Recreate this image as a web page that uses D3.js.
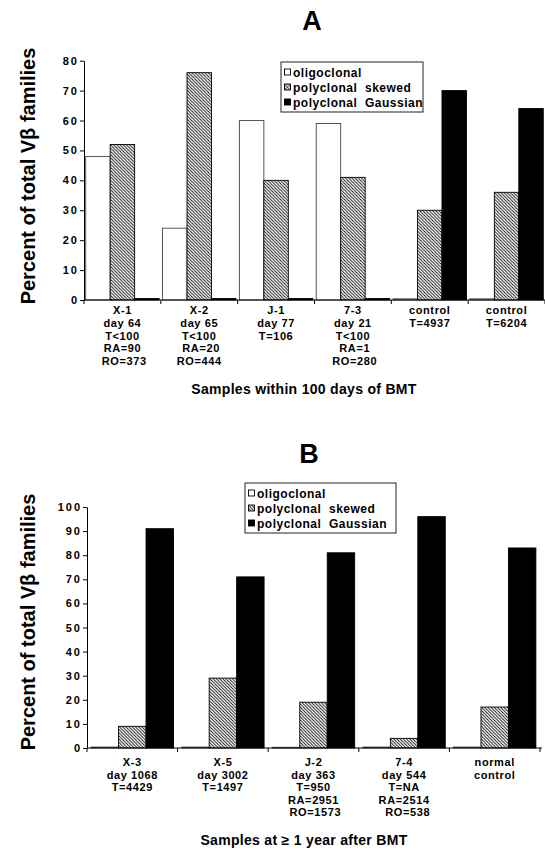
<!DOCTYPE html>
<html>
<head>
<meta charset="utf-8">
<script src="https://cdn.jsdelivr.net/npm/d3@7/dist/d3.min.js"></script>
<style>
    body { margin: 0; background: #fff; }
    svg text { font-family: "Liberation Sans", Arial, Helvetica, sans-serif; fill: #000; }
</style>
</head>
<body>
<div id="chart"></div>
<script>
const WIDTH = 545;
const HEIGHT = 848;

// series (same for both panels)
const seriesKeys = ["oligo", "skewed", "gauss"];
const seriesNames = ["oligoclonal", "polyclonal  skewed", "polyclonal  Gaussian"];

// Panel A - samples within 100 days of BMT
const catsA = ["X-1", "X-2", "J-1", "7-3", "control1", "control2"];
const labelsA = [
    ["X-1", "day 64", "T<100", "RA=90", "\u00a0RO=373"],
    ["X-2", "day 65", "T<100", "\u00a0RA=20", "RO=444"],
    ["J-1", "day 77", "T=106"],
    ["7-3", "day 21", "T<100", "\u00a0RA=1", "\u00a0RO=280"],
    ["control", "T=4937"],
    ["control", "T=6204"]
];
const oligoA = [48, 24, 60, 59, 0.4, 0.4];
const skewedA = [52, 76, 40, 41, 30, 36];
const gaussA = [0.5, 0.5, 0.5, 0.5, 70, 64];
const yTicksA = [0, 10, 20, 30, 40, 50, 60, 70, 80];

// Panel B - samples at >= 1 year after BMT
const catsB = ["X-3", "X-5", "J-2", "7-4", "normal"];
const labelsB = [
    ["X-3", "day 1068", "T=4429"],
    ["X-5", "day 3002", "T=1497"],
    ["J-2", "day 363", "T=950", "RA=2951", "\u00a0RO=1573"],
    ["7-4", "day 544", "T=NA", "RA=2514", "\u00a0\u00a0RO=538"],
    ["normal", "control"]
];
const oligoB = [0.4, 0.4, 0.3, 0.4, 0.4];
const skewedB = [9, 29, 19, 4, 17];
const gaussB = [91, 71, 81, 96, 83];
const yTicksB = [0, 10, 20, 30, 40, 50, 60, 70, 80, 90, 100];

const svg = d3.select("#chart")
    .append("svg")
    .attr("width", WIDTH)
    .attr("height", HEIGHT);

// diagonal hatch for "polyclonal skewed"
svg.append("defs")
    .append("pattern")
    .attr("id", "hatch")
    .attr("patternUnits", "userSpaceOnUse")
    .attr("width", 3.2)
    .attr("height", 3.2)
    .call(p => {
        p.append("rect").attr("width", 3.2).attr("height", 3.2).attr("fill", "#fff");
        p.append("path")
            .attr("d", "M-1,-1 L4.2,4.2 M-1,2.2 L1,4.2 M2.2,-1 L4.2,1")
            .attr("stroke", "#000")
            .attr("stroke-width", 0.85);
    });

const fills = { oligo: "#fff", skewed: "url(#hatch)", gauss: "#000" };

function drawPanel(opt) {
    const g = svg.append("g");

    const rows = opt.cats.map((c, i) => ({
        cat: c,
        oligo: opt.oligo[i],
        skewed: opt.skewed[i],
        gauss: opt.gauss[i]
    }));

    const x0 = d3.scaleBand()
        .domain(opt.cats)
        .range(opt.xRange)
        .paddingInner(0);

    const x1 = d3.scaleBand()
        .domain(seriesKeys)
        .range([0, x0.bandwidth()])
        .paddingInner(0)
        .paddingOuter(opt.outerPad);

    const y = d3.scaleLinear()
        .domain([0, opt.yMax])
        .range(opt.yRange);

    // bars
    g.selectAll(".grp")
        .data(rows)
        .enter()
        .append("g")
        .attr("transform", d => `translate(${x0(d.cat)},0)`)
        .selectAll("rect")
        .data(d => seriesKeys.map(k => ({ key: k, value: d[k] })))
        .enter()
        .append("rect")
        .attr("x", d => x1(d.key))
        .attr("y", d => y(d.value))
        .attr("width", x1.bandwidth())
        .attr("height", d => y(0) - y(d.value))
        .attr("fill", d => fills[d.key])
        .attr("stroke", d => d.key === "oligo" ? "#444" : "#000")
        .attr("stroke-width", 0.9);

    // y axis
    const yAxis = g.append("g")
        .attr("transform", `translate(${opt.xRange[0]},0)`)
        .call(d3.axisLeft(y).tickValues(opt.yTicks).tickSize(4).tickSizeOuter(0).tickPadding(3));
    yAxis.selectAll("path, line").attr("stroke", "#000");
    yAxis.selectAll("text")
        .attr("font-size", 11)
        .attr("font-weight", "bold")
        .attr("letter-spacing", 2)
        .attr("dx", 2)
        .style("font-family", "'Liberation Sans', Arial, sans-serif");

    // x axis line + ticks at group boundaries
    g.append("line")
        .attr("x1", opt.xRange[0]).attr("x2", opt.xRange[1] + 2)
        .attr("y1", y(0)).attr("y2", y(0))
        .attr("stroke", "#000");

    g.selectAll(".xtick")
        .data(d3.range(opt.cats.length + 1))
        .enter()
        .append("line")
        .attr("x1", i => opt.xRange[0] + i * x0.step())
        .attr("x2", i => opt.xRange[0] + i * x0.step())
        .attr("y1", y(0))
        .attr("y2", y(0) + 4)
        .attr("stroke", "#000");

    // category labels
    const lab = g.selectAll(".xlab")
        .data(opt.labels)
        .enter()
        .append("text")
        .attr("text-anchor", "middle")
        .attr("font-size", 11)
        .attr("font-weight", "bold")
        .attr("letter-spacing", 0.6)
        .style("white-space", "pre")
        .attr("transform", (d, i) => `translate(${x0(opt.cats[i]) + x0.bandwidth() / 2},${y(0) + opt.labTop})`);
    lab.selectAll("tspan")
        .data(d => d)
        .enter()
        .append("tspan")
        .attr("x", 0)
        .attr("y", (d, i) => i * opt.labStep)
        .text(d => d);

    // x title
    g.append("text")
        .attr("x", opt.xTitle[0])
        .attr("y", opt.xTitle[1])
        .attr("text-anchor", "middle")
        .attr("font-size", 14)
        .attr("font-weight", "bold")
        .attr("letter-spacing", 0.3)
        .text(opt.xTitleText);

    // y title
    g.append("text")
        .attr("transform", `translate(${opt.yTitle[0]},${opt.yTitle[1]}) rotate(-90)`)
        .attr("text-anchor", "middle")
        .attr("font-size", 20)
        .attr("font-weight", "bold")
        .text("Percent of total V\u03b2 families");

    // panel letter
    g.append("text")
        .attr("x", opt.letter[0])
        .attr("y", opt.letter[1])
        .attr("text-anchor", "middle")
        .attr("font-size", 27)
        .attr("font-weight", "bold")
        .text(opt.letterText);

    // legend
    const lg = g.append("g").attr("transform", `translate(${opt.legend[0]},${opt.legend[1]})`);
    lg.append("rect")
        .attr("width", opt.legend[2])
        .attr("height", 50)
        .attr("fill", "#fff")
        .attr("stroke", "#222")
        .attr("stroke-width", 1);
    const items = lg.selectAll(".item")
        .data(seriesKeys)
        .enter()
        .append("g")
        .attr("transform", (d, i) => `translate(3,${10 + i * 15})`);
    items.append("rect")
        .attr("x", 0.5)
        .attr("y", -3)
        .attr("width", 6)
        .attr("height", 6)
        .attr("fill", d => fills[d])
        .attr("stroke", "#000")
        .attr("stroke-width", 0.9);
    items.append("text")
        .attr("x", 9)
        .attr("y", 4.5)
        .attr("font-size", 12)
        .attr("font-weight", "bold")
        .attr("letter-spacing", 0.5)
        .style("white-space", "pre")
        .text((d, i) => seriesNames[i]);
}

drawPanel({
    cats: catsA, labels: labelsA,
    oligo: oligoA, skewed: skewedA, gauss: gaussA,
    yMax: 80, yTicks: yTicksA,
    xRange: [84, 545], yRange: [300, 60.7],
    outerPad: 0.07,
    labTop: 14, labStep: 12.8,
    xTitle: [304, 394], xTitleText: "Samples within 100 days of BMT",
    yTitle: [35, 176],
    letter: [312, 30], letterText: "A",
    legend: [281, 62, 142]
});

drawPanel({
    cats: catsB, labels: labelsB,
    oligo: oligoB, skewed: skewedB, gauss: gaussB,
    yMax: 100, yTicks: yTicksB,
    xRange: [87, 540], yRange: [748, 507],
    outerPad: 0.15,
    labTop: 18, labStep: 12.5,
    xTitle: [304, 845], xTitleText: "Samples at \u2265 1 year after BMT",
    yTitle: [35, 622],
    letter: [309, 463], letterText: "B",
    legend: [245, 483, 151]
});
</script>
</body>
</html>
